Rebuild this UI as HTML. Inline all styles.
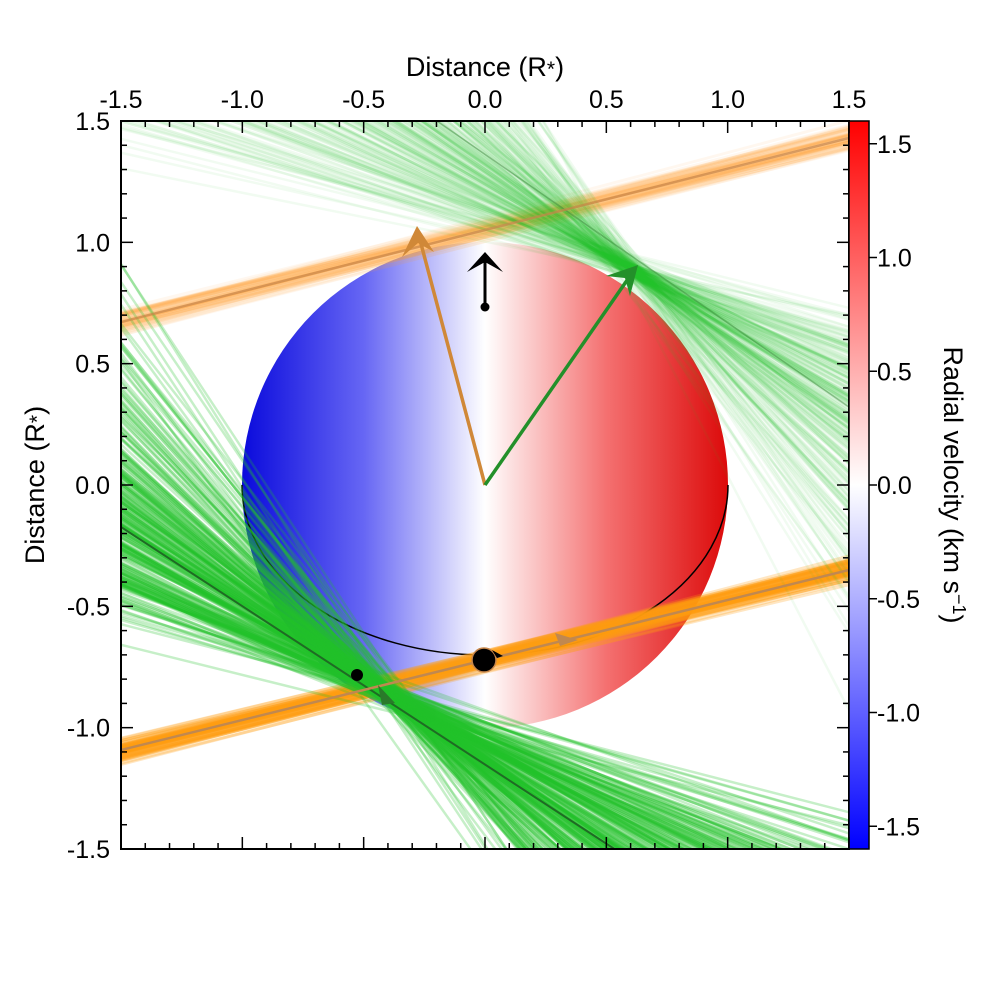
<!DOCTYPE html>
<html><head><meta charset="utf-8"><style>
html,body{margin:0;padding:0;background:#fff;width:1000px;height:1000px;overflow:hidden}
svg{display:block}
svg text{font-family:"Liberation Sans",sans-serif;fill:#000}
</style></head><body>
<svg id="s" width="1000" height="1000" viewBox="0 0 1000 1000" xmlns="http://www.w3.org/2000/svg">
<defs>
<linearGradient id="star" x1="242" y1="0" x2="728" y2="0" gradientUnits="userSpaceOnUse">
<stop offset="0" stop-color="#0a0adc"/><stop offset="0.25" stop-color="#6666f4"/><stop offset="0.5" stop-color="#ffffff"/><stop offset="0.75" stop-color="#f47070"/><stop offset="1" stop-color="#dc0a0a"/></linearGradient>
<linearGradient id="cb" x1="0" y1="121" x2="0" y2="849" gradientUnits="userSpaceOnUse">
<stop offset="0" stop-color="#ff0000"/><stop offset="0.5" stop-color="#ffffff"/><stop offset="1" stop-color="#0000ff"/></linearGradient>
<clipPath id="pc"><rect x="121" y="121" width="728" height="728"/></clipPath>
</defs>
<circle cx="485" cy="485" r="243" fill="url(#star)"/>
<path d="M242,485 A243,170 0 0 0 728,485" fill="none" stroke="#000" stroke-width="1.5"/>
<g id="lines" clip-path="url(#pc)"></g>
<g clip-path="url(#pc)">
<line x1="121" y1="527" x2="616" y2="850" stroke="#1f6b24" stroke-width="2"/>
<path d="M437,121 Q640,262 849,407" fill="none" stroke="#3a8a3a" stroke-width="1.5" opacity="0.5"/>
<line x1="121" y1="322" x2="849" y2="138" stroke="#c8864a" stroke-width="2.5" opacity="0.7"/>
<line x1="121" y1="750" x2="849" y2="570" stroke="#c08850" stroke-width="2.5"/>
<path d="M555,633 L578,640 L560,646z" fill="#c08850"/>
<path d="M378,685 L395,703 L382,705z" fill="#2a7a2a"/>
</g>
<line x1="485" y1="485" x2="420" y2="240" stroke="#d08838" stroke-width="3.5"/>
<path d="M417,226 L402,257 L418,243 L434,252z" fill="#d08838"/>
<line x1="485" y1="485" x2="630" y2="276" stroke="#23902a" stroke-width="3.5"/>
<path d="M638,265 L606,276 L625,278 L630,296z" fill="#23902a"/>
<line x1="485" y1="307" x2="485" y2="258" stroke="#000" stroke-width="3"/>
<path d="M485,252 L467,272 L485,262 L503,272z" fill="#000"/>
<circle cx="485" cy="307" r="4.5" fill="#000"/>
<circle cx="484" cy="660" r="12" fill="#000" stroke="#c8864a" stroke-width="1.5"/>
<circle cx="357" cy="675" r="6" fill="#000"/>
<path d="M492,650 L503,656 L497,658z" fill="#000"/>
<rect x="121" y="121" width="728" height="728" fill="none" stroke="#000" stroke-width="2"/>
<rect x="849" y="121" width="20" height="728" fill="url(#cb)"/>
<rect x="849" y="121" width="20" height="728" fill="none" stroke="#000" stroke-width="1.5"/>
<g id="ticks" stroke="#000" stroke-width="1.5"></g>
<g id="labels" font-size="25"></g>
<text x="485" y="76" font-size="27" text-anchor="middle">Distance (R<tspan font-size="21">*</tspan>)</text>
<text transform="translate(44,485) rotate(-90)" font-size="27" text-anchor="middle">Distance (R<tspan font-size="21">*</tspan>)</text>
<text transform="translate(944,485) rotate(90)" font-size="27" text-anchor="middle">Radial velocity (km s<tspan dy="-9" font-size="18">−1</tspan><tspan dy="9">)</tspan></text>
</svg>
<script>
var NS="http://www.w3.org/2000/svg";
function el(p,n,a){var e=document.createElementNS(NS,n);for(var k in a)e.setAttribute(k,a[k]);p.appendChild(e);return e;}
var seed=7;function rnd(){seed=(seed*16807)%2147483647;return seed/2147483647;}
function gauss(){return (rnd()+rnd()+rnd()+rnd()-2)/0.816;}
var L=document.getElementById('lines');
for(var i=0;i<80;i++){var d=gauss()*6,s=gauss()*0.01;
 el(L,'line',{x1:121,y1:750+d+s*364,x2:849,y2:570+d-s*364,stroke:'#ff9d10','stroke-width':3,opacity:0.25});
 var d2=gauss()*7,s2=gauss()*0.012;
 el(L,'line',{x1:121,y1:322+d2+s2*364,x2:849,y2:138+d2-s2*364,stroke:'#ffa030','stroke-width':3,opacity:0.07});}
for(var i=0;i<320;i++){
 var m=Math.min(2.2,Math.max(0.15,0.65*Math.exp(gauss()*0.55)));
 var t=gauss()*35;
 var px=390+t*0.84+gauss()*6,py=695+t*0.54+gauss()*5;
 el(L,'line',{x1:px-1000,y1:py-1000*m,x2:px+1000,y2:py+1000*m,stroke:'#22c22a','stroke-width':2.5,opacity:0.25});
 var m2=Math.min(2.6,Math.max(0.15,0.65*Math.exp(gauss()*0.6)));
 var t2=gauss()*30;
 var qx=630+t2*0.84+gauss()*6,qy=268+t2*0.54+gauss()*5;
 el(L,'line',{x1:qx-1000,y1:qy-1000*m2,x2:qx+1000,y2:qy+1000*m2,stroke:'#22c22a','stroke-width':2.5,opacity:0.06});
}
var T=document.getElementById('ticks'),G=document.getElementById('labels');
var sc=728/3;
for(var k=-15;k<=15;k++){var v=k/10,p=485+v*sc,len=(k%5==0)?12:6;
 el(T,'line',{x1:p,y1:121,x2:p,y2:121+len});el(T,'line',{x1:p,y1:849,x2:p,y2:849-len});
 el(T,'line',{x1:121,y1:p,x2:121+len,y2:p});el(T,'line',{x1:849,y1:p,x2:849-len,y2:p});}
for(var k=-3;k<=3;k++){var v=k*0.5,p=485+v*sc,tx=v.toFixed(1);
 var a=el(G,'text',{x:p,y:108,'text-anchor':'middle'});a.textContent=tx;
 var b=el(G,'text',{x:110,y:485-v*sc+9,'text-anchor':'end'});b.textContent=tx;
 var cy=485-v*227.5;el(T,'line',{x1:869,y1:cy,x2:877,y2:cy});
 var c=el(G,'text',{x:877,y:cy+9});c.textContent=tx;}
</script>
</body></html>
